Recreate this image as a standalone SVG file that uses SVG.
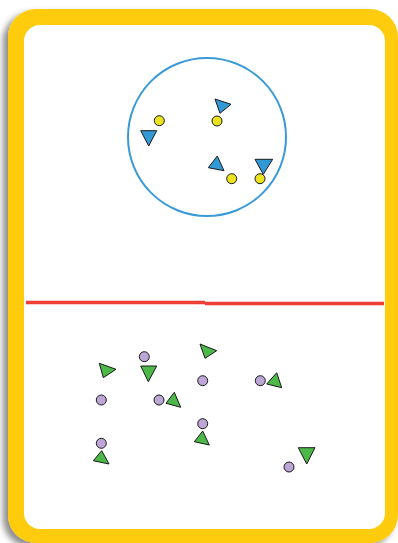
<svg xmlns="http://www.w3.org/2000/svg" width="398" height="543" viewBox="0 0 398 543">
  <defs>
    <filter id="shadow" x="-10%" y="-10%" width="120%" height="120%">
      <feDropShadow dx="-5" dy="4" stdDeviation="3" flood-color="#000" flood-opacity="0.45"/>
    </filter>
  </defs>
  <style>
    .yc { fill: #ece320; stroke: #1a1a1a; stroke-width: 1; }
    .bt { fill: #3399d6; stroke: #1a1a1a; stroke-width: 1; stroke-linejoin: round; }
    .pc { fill: #bba6d6; stroke: #1a1a1a; stroke-width: 1; }
    .gt { fill: #4cb848; stroke: #1a1a1a; stroke-width: 1; stroke-linejoin: round; }
  </style>
  <rect width="398" height="543" fill="#ffffff"/>
  <g id="card">
    <rect x="8" y="9" width="390" height="534" rx="28" fill="#fecb0c" filter="url(#shadow)"/>
    <rect x="24" y="25" width="361" height="504" rx="16" fill="#ffffff"/>
  </g>
  <g id="divider">
    <line x1="26" y1="302.5" x2="205" y2="302.5" stroke="#ef3e33" stroke-width="3.5"/>
    <line x1="205" y1="303.5" x2="384" y2="303.5" stroke="#ef3e33" stroke-width="3.5"/>
  </g>
  <g id="ring">
    <circle cx="207" cy="137" r="79" fill="none" stroke="#3a9ad9" stroke-width="2"/>
  </g>
  <g id="top-items">
    <circle class="yc" cx="159.3" cy="120.7" r="5"/>
    <circle class="yc" cx="217" cy="121" r="5"/>
    <circle class="yc" cx="231.7" cy="178.7" r="5"/>
    <circle class="yc" cx="260" cy="178.7" r="5"/>
    <polygon class="bt" points="215,99 231,104.3 220,113.3"/>
    <polygon class="bt" points="140.7,130.7 156.7,130.7 148.7,146"/>
    <polygon class="bt" points="217.3,156 224,170.7 208.3,167.7"/>
    <polygon class="bt" points="255,159.3 272.7,159.3 263.3,174.3"/>
  </g>
  <g id="bottom-items">
    <circle class="pc" cx="144.3" cy="356.7" r="5"/>
    <circle class="pc" cx="202.7" cy="380.7" r="5"/>
    <circle class="pc" cx="260.3" cy="380.7" r="5"/>
    <circle class="pc" cx="101.3" cy="400" r="5"/>
    <circle class="pc" cx="159" cy="400" r="5"/>
    <circle class="pc" cx="202.7" cy="423.7" r="5"/>
    <circle class="pc" cx="101.3" cy="443.3" r="5"/>
    <circle class="pc" cx="289" cy="467" r="5"/>
    <polygon class="gt" points="99.3,363.3 116,369.3 103.3,377.7"/>
    <polygon class="gt" points="140.7,366 156.7,366 148.3,381.7"/>
    <polygon class="gt" points="200,344 216.7,350.7 205,358.3"/>
    <polygon class="gt" points="276.7,372.7 281.7,387.7 266.7,384"/>
    <polygon class="gt" points="174.3,392.3 180.7,407.3 166,403.3"/>
    <polygon class="gt" points="202.7,431 209.3,445 194.3,441.7"/>
    <polygon class="gt" points="101.7,450.7 109,464 93.3,460.7"/>
    <polygon class="gt" points="298.3,447.7 315,447.7 306.7,464"/>
  </g>
</svg>
